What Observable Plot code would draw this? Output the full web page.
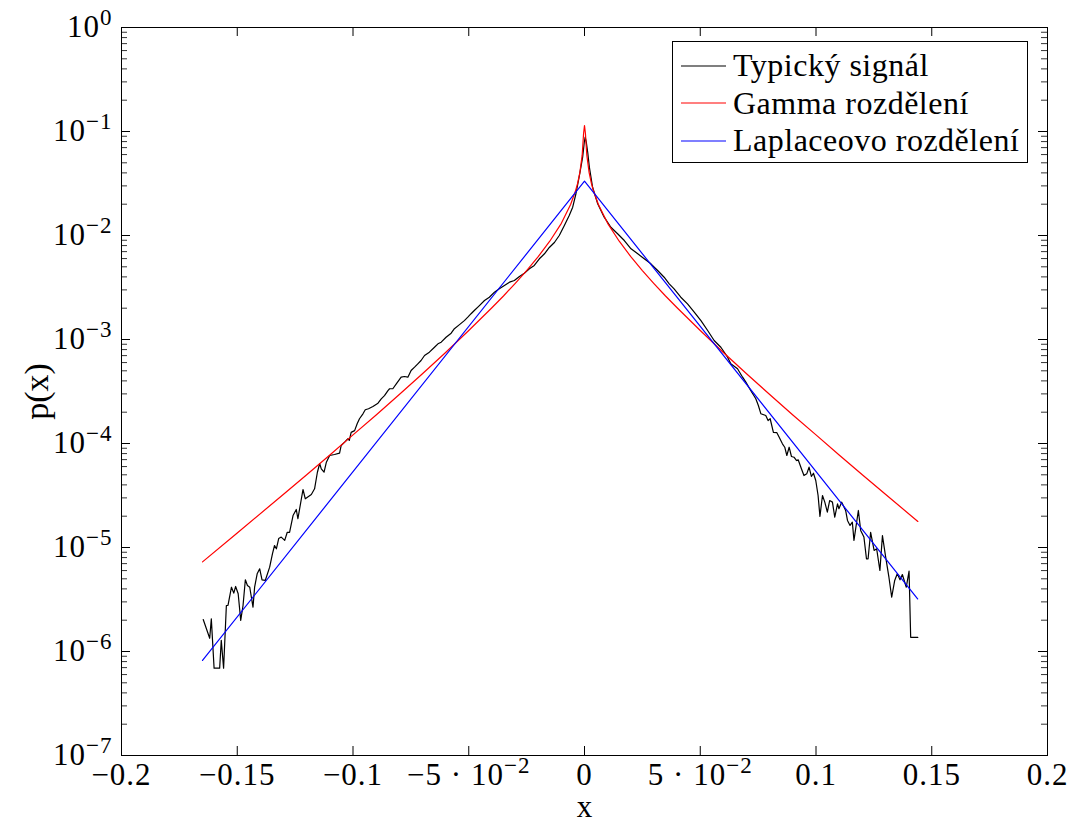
<!DOCTYPE html>
<html>
<head>
<meta charset="utf-8">
<script src="https://cdn.jsdelivr.net/npm/d3@7"></script>
<script src="https://cdn.jsdelivr.net/npm/@observablehq/plot@0.6"></script>
<style>
  html, body { margin: 0; padding: 0; background: #fff; }
  #wrap { position: relative; width: 1069px; height: 824px; font-family: "Liberation Serif", "DejaVu Serif", serif; }
  #legend { position: absolute; left: 672px; top: 41px; width: 354px; height: 120px; border: 1px solid #000; background: #fff; box-sizing: content-box; }
  .row { position: absolute; left: 0; height: 37px; display: flex; align-items: center; font-size: 32px; letter-spacing: 0.5px; color: #000; white-space: nowrap; }
  .row svg { margin-left: 8px; margin-right: 7px; }
  g[aria-label$="tick label"] text { letter-spacing: 1px; }
</style>
</head>
<body>
<div id="wrap"></div>
<script>
// ---------- data ----------
const seriesNames = ["Typický signál", "Gamma rozdělení", "Laplaceovo rozdělení"];
const seriesColors = ["#000000", "#ff0000", "#0000ff"];

const signalX = [-0.1647,-0.1619,-0.1612,-0.1600,-0.1576,-0.1569,-0.1559,-0.1547,-0.1540,-0.1525,-0.1515,-0.1507,-0.1496,-0.1485,-0.1475,-0.1465,-0.1456,-0.1446,-0.1432,-0.1425,-0.1414,-0.1403,-0.1393,-0.1379,-0.1360,-0.1348,-0.1339,-0.1331,-0.1321,-0.1310,-0.1295,-0.1284,-0.1274,-0.1259,-0.1245,-0.1238,-0.1216,-0.1206,-0.1180,-0.1166,-0.1154,-0.1144,-0.1137,-0.1125,-0.1115,-0.1101,-0.1080,-0.1058,-0.1051,-0.1036,-0.1022,-0.1016,-0.1008,-0.0993,-0.0982,-0.0972,-0.0957,-0.0947,-0.0933,-0.0914,-0.0892,-0.0878,-0.0864,-0.0849,-0.0842,-0.0828,-0.0813,-0.0792,-0.0778,-0.0763,-0.0749,-0.0734,-0.0720,-0.0706,-0.0691,-0.0670,-0.0648,-0.0633,-0.0619,-0.0598,-0.0576,-0.0562,-0.0540,-0.0519,-0.0504,-0.0490,-0.0476,-0.0454,-0.0432,-0.0411,-0.0389,-0.0368,-0.0346,-0.0324,-0.0303,-0.0281,-0.0260,-0.0238,-0.0217,-0.0195,-0.0173,-0.0152,-0.0130,-0.0109,-0.0087,-0.0066,-0.0051,-0.0037,-0.0026,-0.0018,-0.0008,-0.0001,0.0003,0.0008,0.0014,0.0021,0.0035,0.0057,0.0085,0.0114,0.0143,0.0172,0.0201,0.0230,0.0258,0.0287,0.0316,0.0344,0.0366,0.0387,0.0416,0.0445,0.0474,0.0503,0.0532,0.0560,0.0589,0.0618,0.0632,0.0661,0.0683,0.0697,0.0718,0.0740,0.0751,0.0762,0.0783,0.0793,0.0802,0.0816,0.0831,0.0841,0.0855,0.0865,0.0874,0.0884,0.0894,0.0905,0.0916,0.0923,0.0937,0.0948,0.0960,0.0970,0.0980,0.0989,0.0999,0.1009,0.1017,0.1028,0.1038,0.1049,0.1059,0.1071,0.1081,0.1093,0.1099,0.1111,0.1128,0.1136,0.1147,0.1157,0.1164,0.1183,0.1193,0.1207,0.1218,0.1225,0.1236,0.1251,0.1262,0.1276,0.1287,0.1301,0.1315,0.1327,0.1340,0.1351,0.1363,0.1373,0.1390,0.1402,0.1409,0.1440];
const signalP = [2.03e-6,1.34e-6,2.06e-6,6.91e-7,6.91e-7,1.28e-6,6.91e-7,2.77e-6,2.77e-6,4.15e-6,3.64e-6,4.22e-6,3.59e-6,1.99e-6,2.77e-6,4.89e-6,4.31e-6,4.15e-6,2.67e-6,4.15e-6,5.59e-6,6.24e-6,4.89e-6,4.82e-6,6.47e-6,8.70e-6,1.045e-5,9.72e-6,1.22e-5,1.26e-5,1.17e-5,1.40e-5,1.40e-5,2.03e-5,2.32e-5,1.89e-5,3.61e-5,2.94e-5,3.23e-5,3.67e-5,5.26e-5,6.42e-5,5.71e-5,5.30e-5,6.61e-5,7.67e-5,7.84e-5,8.07e-5,9.57e-5,1.03e-4,1.11e-4,1.07e-4,1.28e-4,1.33e-4,1.55e-4,1.73e-4,1.93e-4,2.11e-4,2.16e-4,2.27e-4,2.44e-4,2.69e-4,2.89e-4,3.23e-4,3.36e-4,3.36e-4,3.75e-4,4.34e-4,4.41e-4,4.34e-4,5.03e-4,5.42e-4,5.84e-4,6.28e-4,7.02e-4,7.55e-4,8.43e-4,9.09e-4,9.42e-4,1.05e-3,1.15e-3,1.27e-3,1.39e-3,1.52e-3,1.64e-3,1.77e-3,1.90e-3,2.12e-3,2.37e-3,2.55e-3,2.85e-3,3.07e-3,3.31e-3,3.56e-3,3.69e-3,4.04e-3,4.34e-3,4.78e-3,5.15e-3,5.97e-3,6.67e-3,7.67e-3,8.57e-3,1.00e-2,1.25e-2,1.56e-2,1.87e-2,2.52e-2,3.38e-2,4.22e-2,5.66e-2,7.84e-2,8.82e-2,7.84e-2,6.28e-2,4.54e-2,2.91e-2,2.02e-2,1.50e-2,1.20e-2,1.04e-2,8.95e-3,7.45e-3,6.67e-3,5.97e-3,5.34e-3,4.61e-3,3.97e-3,3.43e-3,3.07e-3,2.55e-3,2.20e-3,1.83e-3,1.52e-3,1.22e-3,9.78e-4,8.43e-4,6.76e-4,5.84e-4,5.23e-4,4.34e-4,3.89e-4,3.23e-4,2.69e-4,2.32e-4,1.93e-4,1.86e-4,1.66e-4,1.73e-4,1.28e-4,1.27e-4,1.15e-4,9.93e-5,9.21e-5,7.67e-5,9.21e-5,7.50e-5,7.38e-5,6.86e-5,6.97e-5,5.71e-5,4.92e-5,5.11e-5,5.92e-5,4.82e-5,5.18e-5,4.41e-5,3.16e-5,1.99e-5,3.16e-5,2.73e-5,2.19e-5,2.83e-5,2.73e-5,1.96e-5,2.63e-5,2.36e-5,2.73e-5,2.27e-5,1.82e-5,1.63e-5,1.75e-5,1.17e-5,2.27e-5,1.46e-5,1.26e-5,7.79e-6,7.79e-6,1.40e-5,9.36e-6,9.72e-6,6.01e-6,1.30e-5,8.07e-6,5.18e-6,3.33e-6,4.82e-6,5.59e-6,4.89e-6,5.50e-6,4.15e-6,5.92e-6,1.37e-6,1.37e-6];

const gammaX = [-0.165,-0.15,-0.13,-0.12,-0.11,-0.10,-0.09,-0.08,-0.07,-0.06,-0.05,-0.04,-0.035,-0.03,-0.025,-0.02,-0.015,-0.01,-0.006,-0.004,-0.003,-0.002,-0.001,-0.0004,0,0.0004,0.001,0.002,0.003,0.004,0.006,0.01,0.015,0.02,0.025,0.03,0.035,0.04,0.05,0.06,0.07,0.08,0.09,0.10,0.11,0.12,0.13,0.144];
const gammaP = [7.28e-6,1.38e-5,3.25e-5,5.00e-5,7.75e-5,1.21e-4,1.88e-4,2.96e-4,4.68e-4,7.50e-4,1.22e-3,2.02e-3,2.62e-3,3.45e-3,4.60e-3,6.26e-3,8.81e-3,1.31e-2,1.99e-2,2.63e-2,3.15e-2,4.02e-2,5.92e-2,9.57e-2,0.114,9.57e-2,5.92e-2,4.02e-2,3.15e-2,2.63e-2,1.99e-2,1.31e-2,8.81e-3,6.26e-3,4.60e-3,3.45e-3,2.62e-3,2.02e-3,1.22e-3,7.50e-4,4.68e-4,2.96e-4,1.88e-4,1.21e-4,7.75e-5,5.00e-5,3.25e-5,1.78e-5];

const laplaceX = [-0.165, 0, 0.1439];
const laplaceP = [8.2e-7, 3.33e-2, 3.2e-6];

const xTicks = [-0.2, -0.15, -0.1, -0.05, 0, 0.05, 0.1, 0.15, 0.2];
const xTickLabels = ["−0.2", "−0.15", "−0.1", "−5 · 10^−2", "0", "5 · 10^−2", "0.1", "0.15", "0.2"];
const yTicks = [1e-7, 1e-6, 1e-5, 1e-4, 1e-3, 1e-2, 1e-1, 1];
const yTickLabels = ["10^−7", "10^−6", "10^−5", "10^−4", "10^−3", "10^−2", "10^−1", "10^0"];
const xLabel = "x";
const yLabel = "p(x)";

// ---------- build ----------
const W = 1069, H = 824;
const mL = 121, mR = 22, mT = 27, mB = 69;
const pw = W - mL - mR, ph = H - mT - mB;

const rows = [];
signalX.forEach((x, i) => rows.push({s: seriesNames[0], x, p: signalP[i]}));
gammaX.forEach((x, i) => rows.push({s: seriesNames[1], x, p: gammaP[i]}));
laplaceX.forEach((x, i) => rows.push({s: seriesNames[2], x, p: laplaceP[i]}));

const yMinor = d3.scaleLog().domain([1e-7, 1]).ticks().filter(v => !yTicks.some(t => Math.abs(Math.log10(v) - Math.log10(t)) < 1e-9));

const fontFamily = "'Liberation Serif', 'DejaVu Serif', serif";
const chart = Plot.plot({
  width: W, height: H,
  marginLeft: mL, marginRight: mR, marginTop: mT, marginBottom: mB,
  style: {fontFamily, fontSize: "31px", background: "#fff", color: "#000"},
  x: {domain: [-0.2, 0.2]},
  y: {type: "log", domain: [1e-7, 1]},
  color: {domain: seriesNames, range: seriesColors},
  marks: [
    Plot.axisX(xTicks, {anchor: "bottom", tickSize: 0, tickPadding: 7, fontSize: 31, label: null,
      tickFormat: d => xTickLabels[xTicks.indexOf(d)]}),
    Plot.axisY(yTicks, {anchor: "left", tickSize: 0, tickPadding: 9, fontSize: 31, label: null,
      tickFormat: d => yTickLabels[yTicks.indexOf(d)]}),
    // inward ticks, pgfplots style
    Plot.tickX(xTicks, {x: d => d, insetTop: ph - 9, stroke: "#000", strokeWidth: 1}),
    Plot.tickX(xTicks, {x: d => d, insetBottom: ph - 9, stroke: "#000", strokeWidth: 1}),
    Plot.tickY(yTicks, {y: d => d, insetRight: pw - 9, stroke: "#000", strokeWidth: 1}),
    Plot.tickY(yTicks, {y: d => d, insetLeft: pw - 9, stroke: "#000", strokeWidth: 1}),
    Plot.tickY(yMinor, {y: d => d, insetRight: pw - 6, stroke: "#000", strokeWidth: 0.8}),
    Plot.tickY(yMinor, {y: d => d, insetLeft: pw - 6, stroke: "#000", strokeWidth: 0.8}),
    Plot.line(rows, {x: "x", y: "p", z: "s", stroke: "s", strokeWidth: 1.2, curve: "linear"}),
    Plot.frame({stroke: "#000", strokeWidth: 1}),
    Plot.text([xLabel], {text: d => d, frameAnchor: "bottom", lineAnchor: "bottom", dy: 61, fontSize: 31}),
    Plot.text([yLabel], {text: d => d, frameAnchor: "left", textAnchor: "middle", dx: -84, rotate: -90, fontSize: 34})
  ]
});

// superscripts for tick labels such as 10^−2
chart.querySelectorAll('g[aria-label$="tick label"] text').forEach(t => {
  const s = t.textContent;
  if (!s.includes("^")) return;
  const [base, exp] = s.split("^");
  while (t.firstChild) t.removeChild(t.firstChild);
  const ns = "http://www.w3.org/2000/svg";
  const a = document.createElementNS(ns, "tspan");
  a.textContent = base;
  const b = document.createElementNS(ns, "tspan");
  b.textContent = exp;
  b.setAttribute("font-size", "23");
  b.setAttribute("dy", "-12");
  t.appendChild(a); t.appendChild(b);
});

const wrap = document.getElementById("wrap");
wrap.appendChild(chart);

// legend (pgfplots style box, top right inside the axes)
const legend = document.createElement("div");
legend.id = "legend";
seriesNames.forEach((name, i) => {
  const r = document.createElement("div");
  r.className = "row";
  r.style.top = (5 + i * 37.5) + "px";
  r.innerHTML = `<svg width="45" height="4"><line x1="0" x2="45" y1="2" y2="2" stroke="${seriesColors[i]}" stroke-width="1.2"/></svg><span>${name}</span>`;
  legend.appendChild(r);
});
wrap.appendChild(legend);
</script>
</body>
</html>
